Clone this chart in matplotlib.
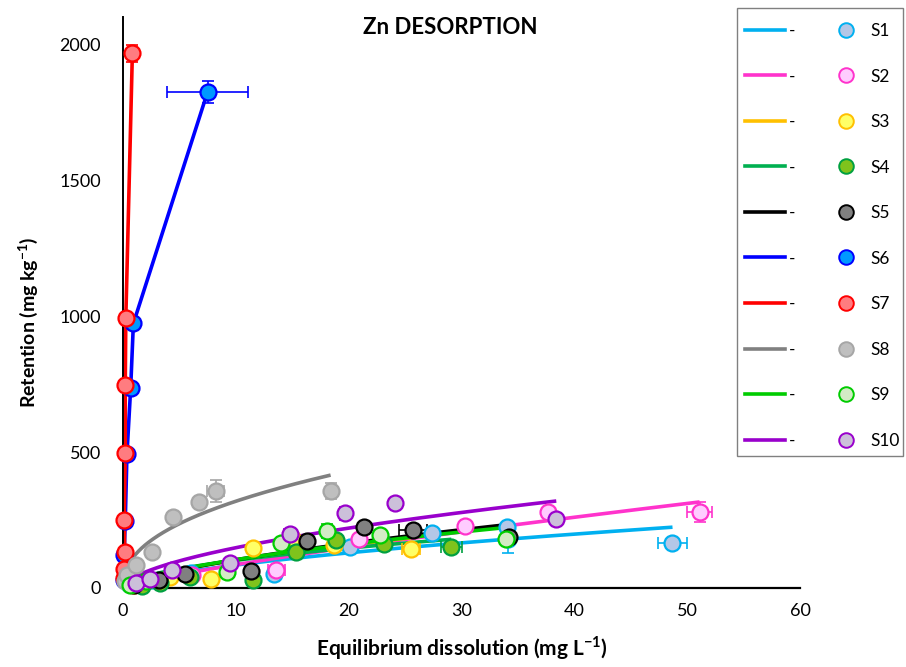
import numpy as np
import matplotlib.pyplot as plt
from matplotlib.lines import Line2D
from matplotlib.patches import Rectangle

plt.rcParams["font.family"] = ["Lato", "DejaVu Sans"]
plt.rcParams["mathtext.fontset"] = "custom"
plt.rcParams["mathtext.rm"] = "Lato"
plt.rcParams["mathtext.bf"] = "Lato:bold"

SAMPLES = ["S1", "S2", "S3", "S4", "S5", "S6", "S7", "S8", "S9", "S10"]

# equilibrium dissolution (mg/L) per sample
CE_S1 = [0.5, 2.5, 6.0, 13.4, 20.1, 27.4, 34.1, 34.0, 48.7]
CE_S2 = [0.8, 6.1, 13.6, 20.9, 30.3, 37.7, 51.1]
CE_S3 = [1.0, 4.2, 7.8, 11.5, 15.0, 18.7, 25.5]
CE_S4 = [1.7, 3.3, 5.9, 11.5, 15.3, 18.9, 23.1, 29.1]
CE_S5 = [1.0, 3.2, 5.5, 11.3, 16.3, 21.4, 25.7, 34.2]
CE_S6 = [0.05, 0.1, 0.2, 0.35, 0.68, 0.92, 7.5]
CE_S7 = [0.05, 0.06, 0.15, 0.1, 0.2, 0.2, 0.25, 0.83]
CE_S8 = [0.2, 0.35, 1.15, 2.6, 4.4, 6.7, 8.2, 18.4]
CE_S9 = [0.6, 2.0, 9.25, 14.0, 18.1, 22.8, 33.9]
CE_S10 = [1.15, 2.4, 4.3, 9.5, 14.8, 19.7, 24.1, 38.4]

# retention (mg/kg)
Q_S1 = [15, 30, 55, 50, 152, 204, 180, 225, 166]
Q_S2 = [10, 48, 66, 179, 228, 278, 280]
Q_S3 = [12, 41, 34, 146, 184, 158, 144]
Q_S4 = [8, 20, 42, 29, 133, 176, 160, 152]
Q_S5 = [12, 29, 52, 63, 172, 223, 215, 186]
Q_S6 = [30, 120, 245, 492, 735, 973, 1825]
Q_S7 = [36, 70, 131, 250, 498, 747, 994, 1966]
Q_S8 = [25, 48, 86, 133, 261, 317, 356, 358]
Q_S9 = [12, 25, 60, 164, 210, 194, 180]
Q_S10 = [17, 33, 66, 91, 200, 274, 313, 253]

# standard deviations (0 = not shown)
CE_SD_S1 = [0, 0, 0, 0, 0, 0, 0, 0, 1.25]
CE_SD_S2 = [0, 0, 0.75, 0, 0, 0, 1.1]
CE_SD_S3 = [0, 0, 0, 0, 0, 0, 0.8]
CE_SD_S4 = [0, 0, 0, 0, 0, 0, 0, 0.95]
CE_SD_S5 = [0, 0, 0, 0, 0, 0, 1.2, 0]
CE_SD_S6 = [0, 0, 0, 0, 0, 0, 3.6]
CE_SD_S7 = [0, 0, 0, 0, 0, 0, 0, 0]
CE_SD_S8 = [0, 0, 0, 0, 0, 0, 0.77, 0]
CE_SD_S9 = [0, 0, 0, 0, 0, 0, 0]
CE_SD_S10 = [0, 0, 0, 0, 0.55, 0, 0, 0]

Q_SD_S1 = [0, 0, 0, 0, 0, 0, 50, 0, 0]
Q_SD_S2 = [0, 0, 0, 0, 0, 0, 37]
Q_SD_S3 = [0, 0, 0, 0, 0, 0, 0]
Q_SD_S4 = [0, 0, 0, 0, 0, 0, 0, 0]
Q_SD_S5 = [0, 0, 0, 0, 0, 0, 0, 0]
Q_SD_S6 = [0, 0, 0, 0, 0, 0, 40]
Q_SD_S7 = [0, 0, 0, 0, 0, 0, 0, 30]
Q_SD_S8 = [0, 0, 0, 0, 0, 0, 40, 30]
Q_SD_S9 = [0, 0, 0, 0, 27, 0, 0]
Q_SD_S10 = [0, 0, 0, 0, 0, 25, 0, 0]

# Freundlich fit q = Kf * Ce^(1/n); None -> points joined directly
KF = [20.5, 13.6, 24.0, 30.0, 22.7, None, None, 118.0, 25.0, 39.7]
INV_N = [0.615, 0.80, 0.63, 0.53, 0.66, None, None, 0.432, 0.62, 0.572]

CE = [CE_S1, CE_S2, CE_S3, CE_S4, CE_S5, CE_S6, CE_S7, CE_S8, CE_S9, CE_S10]
Q = [Q_S1, Q_S2, Q_S3, Q_S4, Q_S5, Q_S6, Q_S7, Q_S8, Q_S9, Q_S10]
CE_SD = [CE_SD_S1, CE_SD_S2, CE_SD_S3, CE_SD_S4, CE_SD_S5,
         CE_SD_S6, CE_SD_S7, CE_SD_S8, CE_SD_S9, CE_SD_S10]
Q_SD = [Q_SD_S1, Q_SD_S2, Q_SD_S3, Q_SD_S4, Q_SD_S5,
        Q_SD_S6, Q_SD_S7, Q_SD_S8, Q_SD_S9, Q_SD_S10]

line_colors = ["#00B0F0", "#FF33CC", "#FFC000", "#00B050", "#000000",
               "#0000FF", "#FF0000", "#808080", "#00CC00", "#9900CC"]
face_colors = ["#B4C7E7", "#FFCCFF", "#FFFF66", "#7FC31C", "#808080",
               "#0099FF", "#FF7C80", "#BFBFBF", "#D3EBC5", "#CCC0DA"]
edge_colors = ["#00B0F0", "#FF33CC", "#FFC000", "#00A040", "#000000",
               "#0000FF", "#FF0000", "#A6A6A6", "#00CC00", "#9900CC"]

fig = plt.figure(figsize=(9.06, 6.67), dpi=100)
ax = fig.add_axes([123 / 906, 1 - 588 / 667, 677 / 906, 571 / 667])

for i in range(len(SAMPLES)):
    x = np.array(CE[i], dtype=float)
    y = np.array(Q[i], dtype=float)
    if KF[i] is None:
        order = np.argsort(y)
        ax.plot(x[order], y[order], color=line_colors[i], lw=2.6, zorder=2,
                solid_capstyle="butt")
    else:
        xs = np.linspace(x.min(), x.max(), 200)
        ax.plot(xs, KF[i] * xs ** INV_N[i], color=line_colors[i], lw=2.6,
                zorder=2, solid_capstyle="butt")

for i in range(len(SAMPLES)):
    x = np.array(CE[i], dtype=float)
    y = np.array(Q[i], dtype=float)
    ax.errorbar(x, y, xerr=CE_SD[i], yerr=Q_SD[i], fmt="none",
                ecolor=edge_colors[i], elinewidth=1.2, capsize=4, capthick=1.2,
                zorder=3, clip_on=False)
    ax.plot(x, y, "o", ms=11.5, mfc=face_colors[i], mec=edge_colors[i],
            mew=1.6, zorder=4, clip_on=False)

ax.set_xlim(0, 60)
ax.set_ylim(0, 2100)
ax.set_xticks(range(0, 61, 10))
ax.set_yticks(range(0, 2001, 500))
ax.spines["top"].set_visible(False)
ax.spines["right"].set_visible(False)
ax.spines["left"].set_linewidth(1.4)
ax.spines["bottom"].set_linewidth(1.6)
ax.tick_params(axis="both", length=0, labelsize=13)
ax.tick_params(axis="y", pad=16)
ax.tick_params(axis="x", pad=11)

ax.set_xlabel(r"Equilibrium dissolution (mg L$^{\mathbf{-1}}$)",
              fontsize=15, fontweight="bold", labelpad=11)
ax.set_ylabel(r"Retention (mg kg$^{\mathbf{-1}}$)",
              fontsize=14, fontweight="bold")
ax.yaxis.set_label_coords(-0.122, 0.466)
fig.text(450 / 906, 1 - 28 / 667, "Zn DESORPTION", ha="center", va="center",
         fontsize=16, fontweight="bold")

# legend box drawn on its own so the padding can differ from the entries
fig.patches.append(Rectangle((737 / 906, 1 - 456 / 667), 166 / 906, 448 / 667,
                             transform=fig.transFigure, fill=False,
                             edgecolor="#808080", lw=1.0))
line_handles = [Line2D([], [], color=c, lw=2.6) for c in line_colors]
marker_handles = [Line2D([], [], ls="none", marker="o", ms=10.5, mfc=f,
                         mec=e, mew=1.4)
                  for f, e in zip(face_colors, edge_colors)]
fig.legend(handles=line_handles + marker_handles,
           labels=["-"] * len(SAMPLES) + SAMPLES,
           ncol=2, loc="upper left", bbox_to_anchor=(745 / 906, 1 - 23 / 667),
           borderaxespad=0, borderpad=0, fontsize=12.5, frameon=False,
           handlelength=2.3, handletextpad=0.25, columnspacing=1.75,
           labelspacing=1.7)

fig.savefig("out.png", dpi=100)
